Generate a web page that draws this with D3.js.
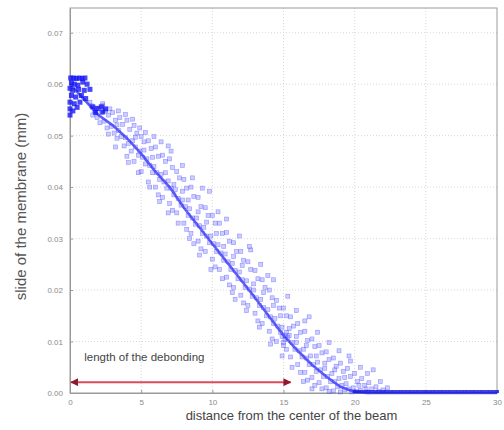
<!DOCTYPE html>
<html>
<head>
<meta charset="utf-8">
<script src="https://cdn.jsdelivr.net/npm/d3@7"></script>
<style>
  body { margin: 0; background: #fff; }
  svg { display: block; font-family: "Liberation Sans", Arial, sans-serif; }
</style>
</head>
<body>
<div class="container"></div>
<script>
// readings of the scatter, [distance, slide]
const nearBeam = [
  [0.05,0.0612],[0.25,0.0612],[0.45,0.0611],[0.65,0.0612],[0.85,0.0611],[1.05,0.0612],
  [0.1,0.0603],[0.3,0.0600],[0.55,0.0598],[0.9,0.0604],[1.2,0.0600],
  [0.0,0.0592],[0.2,0.0588],[0.6,0.0590],[1.0,0.0588],[1.4,0.0590],
  [0.1,0.0578],[0.4,0.0575],[0.8,0.0578],[1.1,0.0572],
  [0.0,0.0565],[0.3,0.0562],[0.7,0.0565],[0.0,0.0552],[0.2,0.0548],[0.5,0.0555],[0.0,0.0540],
  [1.6,0.0556],[1.9,0.0553],[2.2,0.0556],[2.5,0.0552],[1.8,0.0545],[2.3,0.0546]
];

const band = [
  [1.5,0.0558],[1.7,0.0548],[1.4,0.0565],[1.6,0.0540],
  [2.0,0.0552],[2.2,0.0545],[1.9,0.0535],[2.1,0.0525],[2.3,0.0558],
  [2.5,0.0548],[2.7,0.0540],[2.4,0.0528],[2.6,0.0515],[2.8,0.0552],
  [3.0,0.0545],[3.2,0.0530],[2.9,0.0518],[3.1,0.0505],[3.3,0.0495],
  [3.5,0.0535],[3.7,0.0522],[3.4,0.0510],[3.6,0.0498],[3.8,0.0480],
  [4.0,0.0530],[4.2,0.0512],[3.9,0.0496],[4.1,0.0485],[4.3,0.0470],[4.0,0.0460],
  [4.5,0.0520],[4.7,0.0505],[4.4,0.0490],[4.6,0.0478],[4.8,0.0462],[4.5,0.0450],
  [5.0,0.0498],[5.2,0.0488],[4.9,0.0470],[5.1,0.0458],[5.3,0.0445],[5.0,0.0430],
  [5.5,0.0490],[5.7,0.0475],[5.4,0.0455],[5.6,0.0442],[5.8,0.0428],[5.5,0.0410],
  [6.0,0.0478],[6.2,0.0460],[5.9,0.0440],[6.1,0.0428],[6.3,0.0415],[6.0,0.0400],[6.2,0.0385],
  [6.5,0.0462],[6.7,0.0450],[6.4,0.0425],[6.6,0.0410],[6.8,0.0398],[6.5,0.0380],
  [7.0,0.0455],[7.2,0.0438],[6.9,0.0412],[7.1,0.0398],[7.3,0.0385],[7.0,0.0368],[7.2,0.0355],
  [7.5,0.0430],[7.7,0.0418],[7.4,0.0395],[7.6,0.0378],[7.8,0.0365],[7.5,0.0350],
  [8.0,0.0415],[8.2,0.0398],[7.9,0.0375],[8.1,0.0362],[8.3,0.0345],[8.0,0.0330],[8.2,0.0318],
  [8.5,0.0400],[8.7,0.0382],[8.4,0.0358],[8.6,0.0340],[8.8,0.0328],[8.5,0.0310],
  [9.0,0.0380],[9.2,0.0362],[8.9,0.0340],[9.1,0.0325],[9.3,0.0310],[9.0,0.0295],[9.2,0.0280],
  [9.5,0.0360],[9.7,0.0345],[9.4,0.0322],[9.6,0.0305],[9.8,0.0292],[9.5,0.0275],
  [10.0,0.0345],[10.2,0.0330],[9.9,0.0305],[10.1,0.0290],[10.3,0.0275],[10.0,0.0260],[10.2,0.0245],
  [10.5,0.0330],[10.7,0.0310],[10.4,0.0288],[10.6,0.0272],[10.8,0.0258],[10.5,0.0240],
  [11.0,0.0312],[11.2,0.0295],[10.9,0.0270],[11.1,0.0255],[11.3,0.0240],[11.0,0.0225],[11.2,0.0210],
  [11.5,0.0292],[11.7,0.0275],[11.4,0.0252],[11.6,0.0238],[11.8,0.0222],[11.5,0.0205],
  [12.0,0.0275],[12.2,0.0258],[11.9,0.0235],[12.1,0.0220],[12.3,0.0205],[12.0,0.0190],[12.2,0.0175],
  [12.5,0.0255],[12.7,0.0240],[12.4,0.0218],[12.6,0.0202],[12.8,0.0188],[12.5,0.0170],
  [13.0,0.0238],[13.2,0.0222],[12.9,0.0200],[13.1,0.0185],[13.3,0.0170],[13.0,0.0155],[13.2,0.0140],
  [13.5,0.0220],[13.7,0.0205],[13.4,0.0182],[13.6,0.0166],[13.8,0.0150],[13.5,0.0135],
  [14.0,0.0200],[14.2,0.0185],[13.9,0.0162],[14.1,0.0148],[14.3,0.0135],[14.0,0.0120],[14.2,0.0105],
  [14.5,0.0180],[14.7,0.0165],[14.4,0.0145],[14.6,0.0130],[14.8,0.0118],[14.5,0.0100],
  [15.0,0.0165],[15.2,0.0150],[14.9,0.0128],[15.1,0.0112],[15.3,0.0108],[15.0,0.0098],[15.2,0.0085],
  [15.5,0.0148],[15.7,0.0130],[15.4,0.0112],[15.6,0.0098],[15.8,0.0085],[15.5,0.0070],
  [16.0,0.0135],[16.2,0.0118],[15.9,0.0098],[16.1,0.0082],[16.3,0.0070],[16.0,0.0055],[16.2,0.0040],
  [16.5,0.0120],[16.7,0.0102],[16.4,0.0085],[16.6,0.0068],[16.8,0.0055],[16.5,0.0040],[16.7,0.0025],
  [17.0,0.0105],[17.2,0.0090],[16.9,0.0072],[17.1,0.0055],[17.3,0.0042],[17.0,0.0030],[17.2,0.0015],
  [17.5,0.0092],[17.7,0.0078],[17.4,0.0060],[17.6,0.0045],[17.8,0.0032],[17.5,0.0020],[17.7,0.0008],
  [18.0,0.0080],[18.2,0.0065],[17.9,0.0048],[18.1,0.0032],[18.3,0.0022],[18.0,0.0010],[18.2,0.0003],
  [18.5,0.0068],[18.7,0.0052],[18.4,0.0038],[18.6,0.0022],[18.8,0.0012],[18.5,0.0004],
  [19.0,0.0058],[19.2,0.0042],[18.9,0.0028],[19.1,0.0015],[19.3,0.0006],[19.0,0.0002],
  [19.5,0.0048],[19.7,0.0032],[19.4,0.0018],[19.6,0.0008],[19.8,0.0002],
  [20.0,0.0038],[20.2,0.0022],[19.9,0.0010],[20.1,0.0003],
  [20.5,0.0028],[20.7,0.0015],[20.4,0.0005],
  [21.0,0.0020],[21.2,0.0008],[20.9,0.0002],
  [21.5,0.0012],[21.7,0.0003],[22.0,0.0006]
];

// scattered readings away from the middle of the band
const bandStrays = [
  [2.3,0.0562],[3.4,0.0548],[3.9,0.0541],[4.4,0.0532],[4.9,0.0515],[5.3,0.0506],[6.4,0.0488],
  [7.1,0.0470],[7.9,0.0442],[8.6,0.0418],[9.3,0.0398],[10.4,0.0352],[11.0,0.0338],[11.9,0.0305],
  [12.7,0.0278],[13.4,0.0250],[14.3,0.0220],[15.3,0.0188],[15.9,0.0160],[16.5,0.0140],[17.4,0.0118],
  [18.2,0.0098],[18.9,0.0082],[19.7,0.0062],[20.4,0.0050],[20.9,0.0038],[21.8,0.0022],[22.3,0.0010],
  [3.2,0.0478],[4.1,0.0448],[4.8,0.0428],[5.6,0.0400],[6.3,0.0372],[6.9,0.0350],[7.6,0.0330],
  [8.4,0.0300],[9.1,0.0268],[9.9,0.0240],[10.7,0.0222],[11.4,0.0195],[12.4,0.0160],[13.3,0.0128],
  [14.1,0.0095],[14.9,0.0072],[15.6,0.0050],[16.4,0.0022],[17.0,0.0008],
  [2.7,0.0503],[3.3,0.0521],[4.6,0.0497],[5.2,0.0472],[5.8,0.0458],[6.7,0.0428],[7.3,0.0405],
  [7.9,0.0392],[8.3,0.0375],[9.0,0.0352],[9.6,0.0332],[10.3,0.0310],[10.8,0.0285],[11.5,0.0265],
  [12.1,0.0248],[12.9,0.0212],[13.6,0.0195],[14.3,0.0170],[14.8,0.0150],[15.4,0.0125],[15.9,0.0110],
  [16.6,0.0092],[17.3,0.0072],[17.9,0.0058],[18.6,0.0045],[19.3,0.0030],[20.3,0.0015],[20.8,0.0008],
  [15.1,0.0104],[15.2,0.0118],[14.9,0.0110],[15.0,0.0092],
  [9.8,0.0392],[12.6,0.0285],[13.9,0.0228],[6.9,0.0480],[16.8,0.0148],
  [19.6,0.0072],[21.3,0.0045],[11.6,0.0182],[8.7,0.0290],[5.9,0.0498]
];

// flat part beyond the debonding, slide = 0
const flatDistance = [
  20,20.25,20.5,20.75,21,21.25,21.5,21.75,22,22.25,22.5,22.75,23,23.25,23.5,23.75,
  24,24.25,24.5,24.75,25,25.25,25.5,25.75,26,26.25,26.5,26.75,27,27.25,27.5,27.75,
  28,28.25,28.5,28.75,29,29.25,29.5,29.75,30
];

// dense middle of the band
const centreDistance = [0,1,2,3,4,5,6,7,8,9,10,11,12,13,14,15,16,17,18,19,20,21,30];
const centreSlide = [0.060,0.057,0.054,0.052,0.0495,0.0465,0.043,0.040,0.036,0.0325,0.029,
  0.0255,0.022,0.0185,0.0148,0.0112,0.0082,0.0055,0.0032,0.0012,0.0002,0,0];

const xTicks = [0,5,10,15,20,25,30];
const yTicks = [0,0.01,0.02,0.03,0.04,0.05,0.06,0.07];
const debondLength = [0, 15.5];

const margin = {top: 8, right: 7, bottom: 37, left: 70};
const W = 504, H = 430;

const svg = d3.select(".container").append("svg")
  .attr("width", W).attr("height", H);

const x = d3.scaleLinear().domain([0, 30]).range([margin.left, W - margin.right]);
const y = d3.scaleLinear().domain([0, 0.0748]).range([H - margin.bottom, margin.top]);

const defs = svg.append("defs");
defs.append("filter").attr("id", "soft")
  .append("feGaussianBlur").attr("stdDeviation", 0.6);
defs.append("marker").attr("id", "headEnd")
  .attr("viewBox", "0 0 10 10").attr("refX", 9).attr("refY", 5)
  .attr("markerWidth", 4).attr("markerHeight", 4).attr("orient", "auto")
  .append("path").attr("d", "M0,0L10,5L0,10z").attr("fill", "#8e1b2c");
defs.append("marker").attr("id", "headStart")
  .attr("viewBox", "0 0 10 10").attr("refX", 1).attr("refY", 5)
  .attr("markerWidth", 4).attr("markerHeight", 4).attr("orient", "auto")
  .append("path").attr("d", "M10,0L0,5L10,10z").attr("fill", "#8e1b2c");

// grid
svg.append("g").selectAll("line").data(xTicks.slice(1, -1)).enter().append("line")
  .attr("x1", d => x(d)).attr("x2", d => x(d))
  .attr("y1", y.range()[1]).attr("y2", y.range()[0])
  .attr("stroke", "#d8d8d8").attr("stroke-dasharray", "1,2");
svg.append("g").selectAll("line").data(yTicks.slice(1)).enter().append("line")
  .attr("y1", d => y(d)).attr("y2", d => y(d))
  .attr("x1", x.range()[0]).attr("x2", x.range()[1])
  .attr("stroke", "#d8d8d8").attr("stroke-dasharray", "1,2");

// axes
const xAxis = svg.append("g")
  .attr("transform", `translate(0,${y(0)})`)
  .call(d3.axisBottom(x).tickValues(xTicks).tickSizeInner(-3).tickSizeOuter(0).tickPadding(6));
const yAxis = svg.append("g")
  .attr("transform", `translate(${x(0)},0)`)
  .call(d3.axisLeft(y).tickValues(yTicks).tickFormat(d3.format(".2f")).tickSizeInner(-3).tickSizeOuter(0).tickPadding(7));
[xAxis, yAxis].forEach(a => {
  a.select(".domain").attr("stroke", "#999");
  a.selectAll(".tick line").attr("stroke", "#999");
  a.selectAll("text").attr("fill", "#8a8a8a").attr("font-size", 8);
});

// box
svg.append("rect")
  .attr("x", x(0)).attr("y", y(0.0748))
  .attr("width", x(30) - x(0)).attr("height", y(0) - y(0.0748))
  .attr("fill", "none").attr("stroke", "#9a9a9a");

// points
const pts = svg.append("g").attr("filter", "url(#soft)");
pts.append("path")
  .datum(centreDistance.map((d, i) => [d, centreSlide[i]]))
  .attr("d", d3.line().x(d => x(d[0])).y(d => y(d[1])))
  .attr("fill", "none").attr("stroke", "#1c1cf0").attr("stroke-width", 2.6).attr("opacity", 0.7);

pts.selectAll("rect.band").data(band.concat(bandStrays)).enter().append("rect")
  .attr("class", "band")
  .attr("x", d => x(d[0]) - 2).attr("y", d => y(d[1]) - 2)
  .attr("width", 4).attr("height", 4)
  .attr("fill", "#5a5aff").attr("fill-opacity", 0.3)
  .attr("stroke", "#3030ff").attr("stroke-opacity", 0.45).attr("stroke-width", 0.6);

pts.selectAll("rect.near").data(nearBeam).enter().append("rect")
  .attr("class", "near")
  .attr("x", d => x(d[0]) - 2.5).attr("y", d => y(d[1]) - 2.5)
  .attr("width", 5).attr("height", 5)
  .attr("fill", "#1515f5").attr("fill-opacity", 0.8);

pts.selectAll("rect.flat").data(flatDistance).enter().append("rect")
  .attr("class", "flat")
  .attr("x", d => x(d) - 2).attr("y", y(0) - 3)
  .attr("width", 4).attr("height", 3)
  .attr("fill", "#1a1ae0").attr("fill-opacity", 0.8);

// debonding arrow
svg.append("line")
  .attr("x1", x(debondLength[0]) + 1).attr("x2", x(debondLength[1]))
  .attr("y1", y(0.0021)).attr("y2", y(0.0021))
  .attr("stroke", "#dc4a5e").attr("stroke-width", 2)
  .attr("marker-start", "url(#headStart)").attr("marker-end", "url(#headEnd)");

svg.append("text")
  .attr("x", x(1.0)).attr("y", y(0.0062))
  .attr("font-size", 11.5).attr("fill", "#444")
  .text("length of the debonding");

// labels
svg.append("text")
  .attr("x", (x(0) + x(30)) / 2 + 8).attr("y", 420)
  .attr("text-anchor", "middle").attr("font-size", 13).attr("fill", "#444")
  .text("distance from the center of the beam");

svg.append("text")
  .attr("transform", `translate(26,${(y(0) + y(0.0748)) / 2 + 6}) rotate(-90)`)
  .attr("text-anchor", "middle").attr("font-size", 15).attr("fill", "#555")
  .text("slide of the membrane (mm)");
</script>
</body>
</html>
